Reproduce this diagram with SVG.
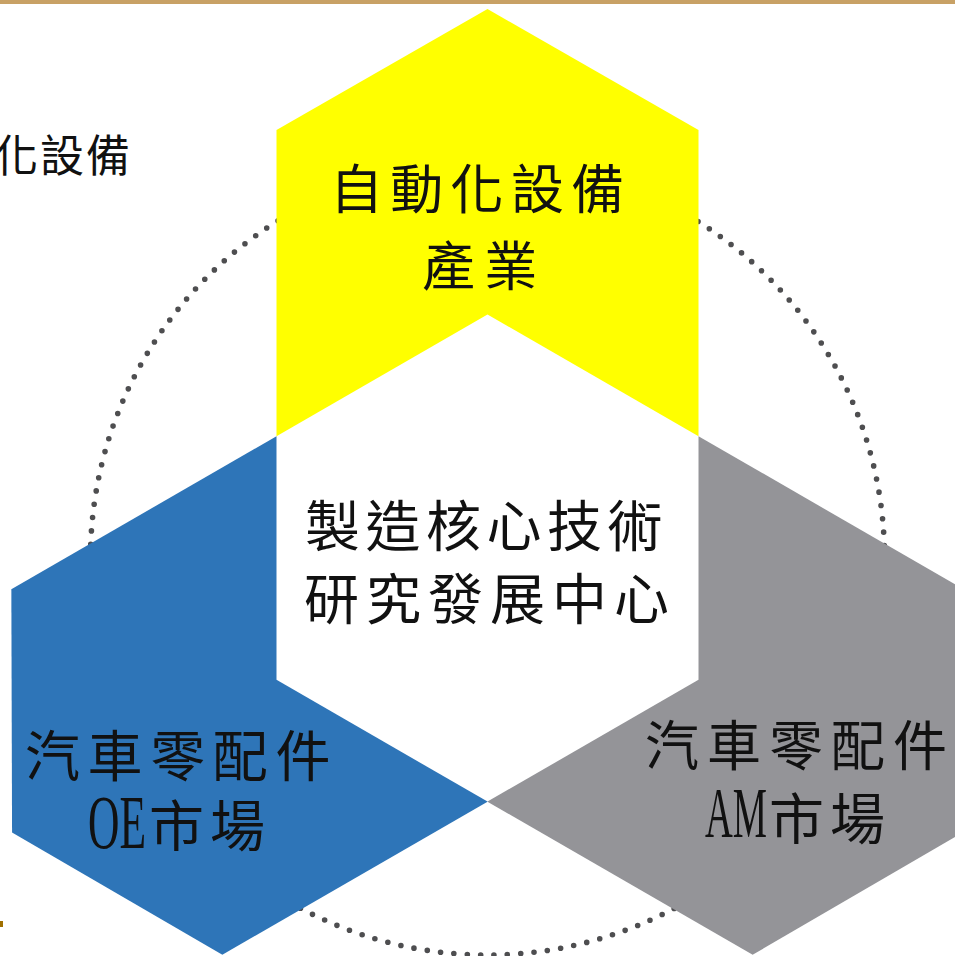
<svg xmlns="http://www.w3.org/2000/svg" width="955" height="956" viewBox="0 0 955 956">
<defs>
<style>
.cjk{font-family:"Noto Sans CJK TC","Noto Sans CJK SC",sans-serif;fill:#111;}
.lat{font-family:"Liberation Serif",serif;fill:#111;}
.ring{fill:none;stroke:#4e4e50;stroke-width:5.6;stroke-linecap:round;stroke-dasharray:0 13.41;}
</style>
<polygon id="petal" points="487.5,9 698.5,130 698.5,436.2 487.5,558 276.5,436.2 276.5,130"/>
</defs>
<rect x="0" y="0" width="955" height="956" fill="#ffffff"/>
<rect x="0" y="0" width="955" height="4" fill="#c8a165"/>
<rect x="0" y="921" width="3" height="6" fill="#a07000"/>
<text class="cjk" x="-6" y="172" font-size="44" letter-spacing="2">化設備</text>
<g id="connectors">
<circle class="ring" cx="487.5" cy="558" r="397"/>
</g>
<g id="node-automation">
<use href="#petal" fill="#ffff00"/>
</g>
<g id="node-am">
<use href="#petal" fill="#949498" transform="rotate(120 487.5 558)"/>
</g>
<g id="node-oe">
<use href="#petal" fill="#2e75b8" transform="rotate(-120 487.5 558)"/>
</g>
<g id="node-center">
<polygon points="487.5,314.4 698.5,436.2 698.5,679.8 487.5,801.6 276.5,679.8 276.5,436.2" fill="#ffffff"/>
<text class="cjk" x="305" y="546" font-size="55" letter-spacing="5.5">製造核心技術</text>
<text class="cjk" x="304" y="619" font-size="55" letter-spacing="7">研究發展中心</text>
</g>
<g id="label-automation">
<text class="cjk" x="330" y="209" font-size="53" letter-spacing="7.3">自動化設備</text>
<text class="cjk" x="422" y="286" font-size="53" letter-spacing="9.3">產業</text>
</g>
<g id="label-oe">
<text class="cjk" x="25" y="776" font-size="55" letter-spacing="7.6">汽車零配件</text>
<text class="lat" x="88" y="848" font-size="77" textLength="58" lengthAdjust="spacingAndGlyphs">OE</text>
<text class="cjk" x="149" y="846" font-size="55" letter-spacing="6">市場</text>
</g>
<g id="label-am">
<text class="cjk" x="645" y="766" font-size="54" letter-spacing="8">汽車零配件</text>
<text class="lat" x="705" y="837" font-size="71" textLength="62" lengthAdjust="spacingAndGlyphs">AM</text>
<text class="cjk" x="769" y="839" font-size="55" letter-spacing="6">市場</text>
</g>
</svg>
